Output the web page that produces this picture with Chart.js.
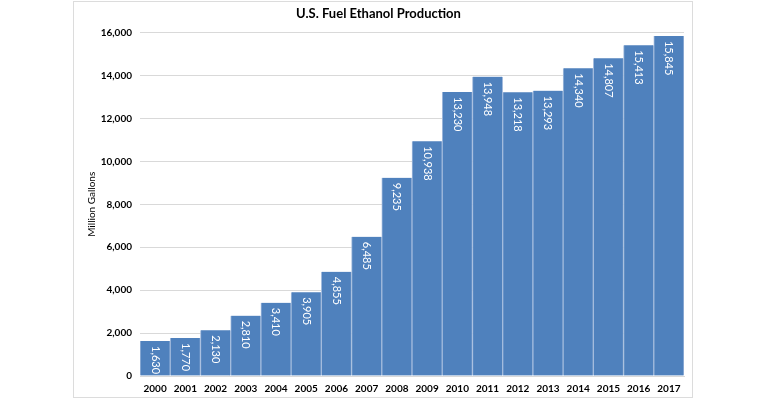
<!DOCTYPE html>
<html>
<head>
<meta charset="utf-8">
<script src="https://cdn.jsdelivr.net/npm/chart.js@4/dist/chart.umd.min.js"></script>
<style>
html,body{margin:0;padding:0;background:#fff;}
canvas{display:block;}
</style>
</head>
<body>
<canvas id="c" width="770" height="400"></canvas>
<script>
const years = ['2000','2001','2002','2003','2004','2005','2006','2007','2008','2009','2010','2011','2012','2013','2014','2015','2016','2017'];
const production = [1630,1770,2130,2810,3410,3905,4855,6485,9235,10938,13230,13948,13218,13293,14340,14807,15413,15845];
const yTicksMax = 16000;
const yTickStep = 2000;

const fmt = v => Number(v).toLocaleString('en-US');

const framePlugin = {
  id: 'frame',
  beforeDraw(chart) {
    const ctx = chart.ctx;
    ctx.save();
    ctx.fillStyle = '#fff';
    ctx.fillRect(0, 0, chart.width, chart.height);
    ctx.strokeStyle = '#dcdcdc';
    ctx.lineWidth = 1;
    ctx.strokeRect(73.5, 1.5, 619, 396);
    ctx.restore();
  }
};

const barLabels = {
  id: 'barLabels',
  afterDatasetsDraw(chart) {
    const ctx = chart.ctx;
    const meta = chart.getDatasetMeta(0);
    const data = chart.data.datasets[0].data;
    ctx.save();
    ctx.fillStyle = '#ffffff';
    ctx.font = '11px Lato, "Open Sans", sans-serif';
    ctx.textAlign = 'left';
    ctx.textBaseline = 'middle';
    meta.data.forEach((bar, i) => {
      ctx.save();
      ctx.translate(bar.x, bar.y + 5);
      ctx.rotate(Math.PI / 2);
      ctx.fillText(fmt(data[i]), 0, 0);
      ctx.restore();
    });
    ctx.restore();
  }
};

new Chart(document.getElementById('c'), {
  type: 'bar',
  data: {
    labels: years,
    datasets: [{
      data: production,
      backgroundColor: '#4f81bd',
      borderColor: '#a3bbdd',
      borderWidth: {left: 1, right: 1, top: 0, bottom: 0},
      borderSkipped: false,
      barPercentage: 1,
      categoryPercentage: 1
    }]
  },
  options: {
    responsive: false,
    animation: false,
    devicePixelRatio: 1,
    layout: { padding: { left: 73, right: 86, top: 0, bottom: 2 } },
    plugins: {
      legend: { display: false },
      tooltip: { enabled: false },
      title: {
        display: true,
        text: 'U.S. Fuel Ethanol Production',
        color: '#000',
        font: { family: 'Lato, "Open Sans", sans-serif', size: 13, weight: 'bold' },
        padding: { top: 6, bottom: 11 }
      }
    },
    scales: {
      x: {
        grid: { display: false, drawTicks: false },
        border: { display: true, color: '#d9d9d9' },
        ticks: {
          color: '#000',
          padding: 7,
          maxRotation: 0,
          autoSkip: false,
          font: { family: 'Lato, "Open Sans", sans-serif', size: 10, weight: 'bold' }
        },
        afterFit(scale) { scale.height = 22; }
      },
      y: {
        min: 0,
        max: yTicksMax,
        grid: { color: '#d9d9d9', drawTicks: false },
        border: { display: false },
        ticks: {
          stepSize: yTickStep,
          color: '#000',
          padding: 8,
          font: { family: 'Lato, "Open Sans", sans-serif', size: 10, weight: 'bold' },
          callback: v => fmt(v)
        },
        title: {
          display: true,
          text: 'Million Gallons',
          color: '#000',
          padding: { top: 13, bottom: 0 },
          font: { family: 'Lato, "Open Sans", sans-serif', size: 10 }
        },
        afterFit(scale) { scale.width = 67; }
      }
    }
  },
  plugins: [framePlugin, barLabels]
});
</script>
</body>
</html>
